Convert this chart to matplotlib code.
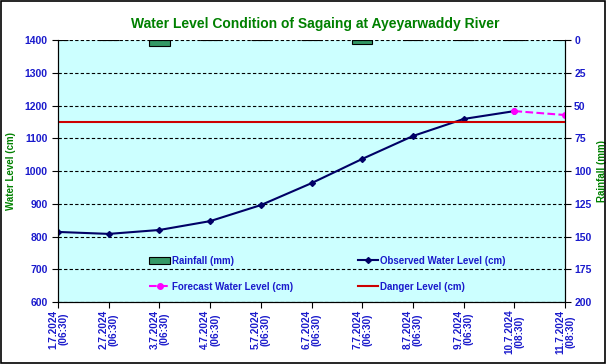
import matplotlib as mpl
mpl.use('Agg')
import matplotlib.pyplot as plt
from matplotlib.patches import Rectangle
import numpy as np

plt.rcParams['font.family'] = ['Liberation Sans', 'DejaVu Sans']

dates = ['1.7.2024\n(06:30)', '2.7.2024\n(06:30)', '3.7.2024\n(06:30)', '4.7.2024\n(06:30)',
         '5.7.2024\n(06:30)', '6.7.2024\n(06:30)', '7.7.2024\n(06:30)', '8.7.2024\n(06:30)',
         '9.7.2024\n(06:30)', '10.7.2024\n(08:30)', '11.7.2024\n(08:30)']
observed = [814, 808, 820, 847, 896, 963, 1037, 1107, 1159, 1183]
forecast_idx = [9, 10]
forecast = [1183, 1171]
rainfall = [0, 0, 4.6, 0, 0, 0, 3.3, 0, 0, 0, 0]
danger = 1150

blue = '#1a1acc'
green = '#008000'

fig = plt.figure(figsize=[6.07, 3.64], dpi=100)
fig.patch.set_facecolor('white')
fig.patches.append(Rectangle((0.002, 0.003), 0.995, 0.994, transform=fig.transFigure,
                             fill=False, edgecolor='black', lw=1.2))
ax = fig.add_axes([0.0956, 0.1703, 0.8354, 0.7197])
ax2 = ax.twinx()

x = np.arange(len(dates))
ax2.bar(x, rainfall, width=0.4, color='#339966', edgecolor='black', lw=0.8,
        label='Rainfall (mm)')
ax2.set_ylim(200, 0)

ax.set_zorder(ax2.get_zorder() + 1)
ax.patch.set_visible(False)
ax2.patch.set_visible(True)
ax2.patch.set_facecolor('#ccffff')

ax.yaxis.grid(True, color='black', linestyle=(0, (3, 2)), lw=0.8)
ax.plot(x[:len(observed)], observed, '-', c='#000066', lw=1.5, marker='D', ms=3,
        label='Observed Water Level (cm)')
ax.plot(forecast_idx, forecast, '--', c='#ff00ff', lw=1.5, marker='o', ms=4,
        label='Forecast Water Level (cm)')
ax.axhline(danger, c='#cc0000', lw=1.5, label='Danger Level (cm)')

ax.set_xlim(0, len(dates) - 1)
ax.set_ylim(600, 1400)
ax.set_yticks(np.arange(600, 1401, 100))
ax2.set_yticks(np.arange(0, 201, 25))
ax.set_xticks(x)
ax.set_xticklabels(dates, rotation=90, fontsize=7.2, fontweight='bold', color=blue,
                   linespacing=1.0)
for a in (ax, ax2):
    a.tick_params(axis='y', labelsize=7.5, labelcolor=blue, length=4, width=0.8)
    plt.setp(a.get_yticklabels(), fontweight='bold')
ax2.tick_params(axis='y', pad=2.5)
ax.tick_params(axis='x', length=4, width=0.8, pad=1.5)
ax.spines['top'].set_visible(False)
ax2.spines['top'].set_visible(False)

ax.set_ylabel('Water Level (cm)', fontsize=7, fontweight='bold', color=green)
ax.yaxis.set_label_coords(-0.082, 0.5)
ax2.set_ylabel('Rainfall (mm)', fontsize=7, fontweight='bold', color=green)
ax2.yaxis.set_label_coords(1.063, 0.5)
fig.text(0.52, 0.935, 'Water Level Condition of Sagaing at Ayeyarwaddy River',
         ha='center', va='center', fontsize=10, fontweight='bold', color=green)

h1, l1 = ax2.get_legend_handles_labels()
h2, l2 = ax.get_legend_handles_labels()
handles = [h1[0], h2[1], h2[0], h2[2]]
labels = [l1[0], l2[1], l2[0], l2[2]]
leg = ax.legend(handles, labels, ncol=2, loc='lower left', bbox_to_anchor=(0.16, 0.0),
                frameon=False, fontsize=7, columnspacing=6.6, handlelength=2.1,
                handletextpad=0.25, labelspacing=1.65, borderaxespad=0.65)
for t in leg.get_texts():
    t.set_color(blue)
    t.set_fontweight('bold')

plt.savefig('out.png', dpi=100)
plt.close(fig)
